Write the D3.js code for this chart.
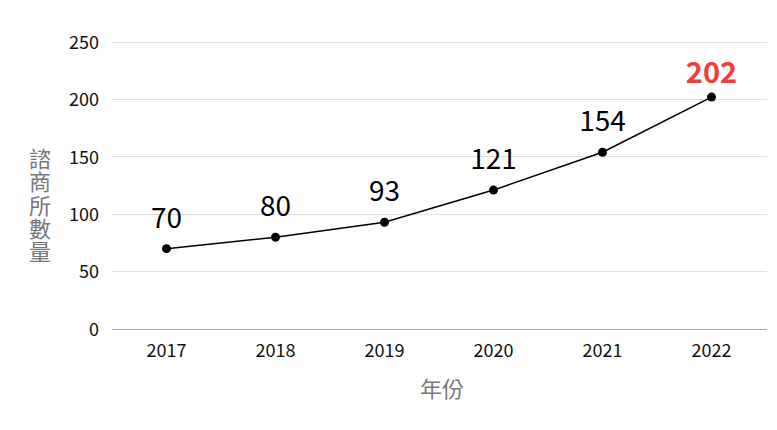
<!DOCTYPE html>
<html><head><meta charset="utf-8">
<script src="https://cdn.jsdelivr.net/npm/d3@7"></script>
<style>body{margin:0;background:#fff}svg{display:block}svg text{font-family:"Noto Sans CJK TC","Noto Sans CJK JP",sans-serif}</style>
</head><body><svg id="c" width="777" height="430"></svg>
<script>
const years = ["2017","2018","2019","2020","2021","2022"];
const counts = [70, 80, 93, 121, 154, 202];
const yTicks = [0, 50, 100, 150, 200, 250];
const xTitle = "年份";
const yTitle = "諮商所數量";

const FONT = '"Noto Sans CJK TC","Noto Sans CJK JP",sans-serif';
const svg = d3.select("#c");
const x = d3.scaleBand().domain(years).range([112, 766]);
const y = d3.scaleLinear().domain([0, 250]).range([329, 42]);

// grid
svg.append("g").selectAll("line").data(yTicks.filter(t => t > 0)).join("line")
  .attr("x1", 112).attr("x2", 767).attr("y1", d => y(d)).attr("y2", d => y(d))
  .attr("stroke", "#e0e0e0").attr("stroke-width", 1).attr("shape-rendering","crispEdges");
svg.append("line").attr("x1", 112).attr("x2", 767).attr("y1", y(0)).attr("y2", y(0))
  .attr("stroke", "#aaa").attr("stroke-width", 1).attr("shape-rendering","crispEdges");

// y axis
const ya = svg.append("g").attr("transform", "translate(99,0)")
  .call(d3.axisLeft(y).tickValues(yTicks).tickSize(0).tickPadding(0))
  .attr("font-family", FONT).attr("font-size", 18);
ya.select(".domain").remove();
ya.selectAll("text").attr("fill", "#111").attr("dy","0.35em");

// x axis
const xa = svg.append("g").attr("transform", `translate(0,${y(0)})`)
  .call(d3.axisBottom(x).tickSize(0).tickPadding(15))
  .attr("font-family", FONT).attr("font-size", 18);
xa.select(".domain").remove();
xa.selectAll("text").attr("fill", "#111");

// titles
svg.append("text").attr("x", 442).attr("y", 397).attr("text-anchor", "middle")
  .attr("font-size", 22).attr("fill", "#777").text(xTitle);
svg.append("text").attr("x", 40).attr("y", 206)
  .attr("text-anchor", "middle").attr("font-size", 22).attr("fill", "#777")
  .style("writing-mode", "vertical-rl").style("text-orientation", "upright")
  .attr("letter-spacing", 1.4)
  .text(yTitle);

// line
const cx = d => x(d) + x.bandwidth() / 2;
svg.append("path").datum(counts)
  .attr("d", d3.line().x((d, i) => cx(years[i])).y(d => y(d)))
  .attr("fill", "none").attr("stroke", "#000").attr("stroke-width", 1.5);
svg.selectAll("circle.pt").data(counts).join("circle")
  .attr("cx", (d, i) => cx(years[i])).attr("cy", d => y(d)).attr("r", 4.5).attr("fill", "#000");

// labels
const last = counts.length - 1;
svg.selectAll("text.lbl").data(counts).join("text")
  .attr("x", (d, i) => cx(years[i])).attr("y", (d, i) => y(d) - (i === last ? 14 : 21))
  .attr("text-anchor", "middle")
  .attr("font-size", (d, i) => i === last ? 29 : 28)
  .attr("font-weight", (d, i) => i === last ? "bold" : "normal")
  .attr("fill", (d, i) => i === last ? "#f53b3b" : "#000")
  .text(d => d);
</script></body></html>
